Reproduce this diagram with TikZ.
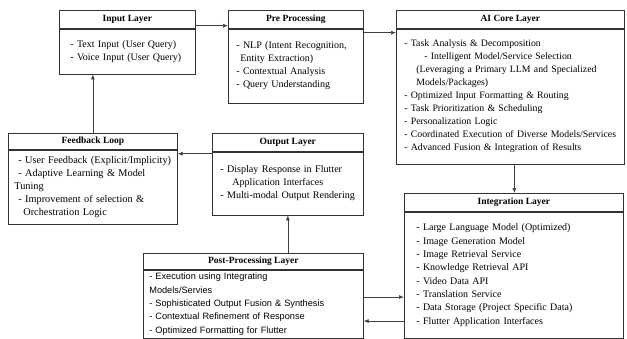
\documentclass[tikz,border=0pt]{standalone}
\usepackage{fontspec}
\setmainfont{Liberation Serif}
\newfontfamily\postfont{Liberation Sans}
\usetikzlibrary{positioning,arrows.meta}

\begin{document}
\begin{tikzpicture}[x=1pt,y=-1pt,
	head/.style={draw=black!80,line width=0.7pt,minimum height=18pt,inner sep=0pt,anchor=north west,font=\fontsize{9.5}{11}\selectfont\bfseries},
	body/.style={draw=black!80,line width=0.7pt,inner xsep=8pt,inner ysep=2pt,align=left,font=\fontsize{10}{13}\selectfont},
	arr/.style={draw=black!75,line width=0.7pt,-{Latex[length=5pt,width=4pt]}}]
		\useasboundingbox (0,0) rectangle (627,338);
		% input
		\node[head,minimum width=136pt] (inh) at (59,10) {Input Layer};
		\node[body,text width=114pt,inner xsep=11pt,minimum height=45pt,below=0pt of inh] (inb)
		{- Text Input (User Query)\\- Voice Input (User Query)};
		% pre processing
		\node[head,minimum width=135pt] (preh) at (228,10) {Pre Processing};
		\node[body,text width=121pt,inner xsep=7pt,minimum height=74pt,below=0pt of preh] (preb)
		{\hspace*{1pt}- NLP (Intent Recognition,\\\hspace*{5pt}Entity Extraction)\\\hspace*{1pt}- Contextual Analysis\\\hspace*{1pt}- Query Understanding};
		% ai core
		\node[head,minimum width=228pt] (aih) at (396,10) {AI Core Layer};
		\node[body,text width=220pt,inner xsep=4pt,minimum height=135pt,below=0pt of aih,font=\fontsize{9.8}{13}\selectfont] (aib)
		{\hspace*{4pt}- Task Analysis \& Decomposition\\
		\hspace*{24pt}- Intelligent Model/Service Selection\\
		\hspace*{16pt}(Leveraging a Primary LLM and Specialized\\
		\hspace*{16pt}Models/Packages)\\
		\hspace*{4pt}- Optimized Input Formatting \& Routing\\
		\hspace*{4pt}- Task Prioritization \& Scheduling\\
		\hspace*{4pt}- Personalization Logic\\
		\hspace*{4pt}\mbox{- Coordinated Execution of Diverse Models/Services}\\
		\hspace*{4pt}- Advanced Fusion \& Integration of Results};
		% feedback
		\node[head,minimum width=169pt,minimum height=16pt] (fbh) at (8,133) {Feedback Loop};
		\node[body,text width=161pt,inner xsep=4pt,minimum height=74pt,below=0pt of fbh,font=\fontsize{10.3}{13}\selectfont] (fbb)
		{\hspace*{6pt}- User Feedback (Explicit/Implicity)\\\hspace*{6pt}- Adaptive Learning \& Model\\\hspace*{2pt}Tuning\\\hspace*{6pt}- Improvement of selection \&\\\hspace*{11pt}Orchestration Logic};
		% output
		\node[head,minimum width=151pt] (outh) at (212,133) {Output Layer};
		\node[body,text width=143pt,inner xsep=4pt,minimum height=63pt,below=0pt of outh,font=\fontsize{10.1}{13}\selectfont] (outb)
		{\hspace*{4pt}- Display Response in Flutter\\\hspace*{16pt}Application Interfaces\\\hspace*{4pt}- Multi-modal Output Rendering};
		% post processing
		\node[head,minimum width=220pt,minimum height=16pt] (posth) at (143,253) {Post-Processing Layer};
		\node[body,text width=210pt,inner xsep=5pt,minimum height=68pt,below=0pt of posth,font=\postfont\fontsize{9.2}{13.3}\selectfont] (postb)
		{\hspace*{1pt}- Execution using Integrating\\\hspace*{1pt}Models/Servies\\\hspace*{1pt}- Sophisticated Output Fusion \& Synthesis\\\hspace*{1pt}- Contextual Refinement of Response\\\hspace*{1pt}- Optimized Formatting for Flutter};
		% integration
		\node[head,minimum width=219pt] (inth) at (404,193) {Integration Layer};
		\node[body,text width=195pt,inner xsep=12pt,minimum height=126pt,below=0pt of inth,font=\fontsize{10}{13.3}\selectfont] (intb)
		{- Large Language Model (Optimized)\\- Image Generation Model\\- Image Retrieval Service\\- Knowledge Retrieval API\\- Video Data API\\- Translation Service\\- Data Storage (Project Specific Data)\\- Flutter Application Interfaces};
		% connectors
		\coordinate (a1) at ([yshift=3pt]inh.south east);
		\draw[arr] (a1) -- (a1 -| preh.west);
		\coordinate (a2) at ([yshift=-4pt]preh.south east);
		\draw[arr] (a2) -- (a2 -| aih.west);
		\coordinate (a3) at ([xshift=4pt]aib.south);
		\draw[arr] (a3) -- (a3 |- inth.north);
		\coordinate (a4) at ([yshift=-2pt]outh.south west);
		\draw[arr] (a4) -- (a4 -| fbh.east);
		\draw[arr] (fbh.north) -- (fbh.north |- inb.south);
		\draw[arr] (outb.south |- posth.north) -- (outb.south);
		\coordinate (a5) at ([yshift=7pt]postb.east);
		\draw[arr] (a5) -- (a5 -| intb.west);
		\coordinate (a6) at ([yshift=-17pt]postb.east);
		\draw[arr] (a6 -| intb.west) -- (a6);
	\end{tikzpicture}
\end{document}
